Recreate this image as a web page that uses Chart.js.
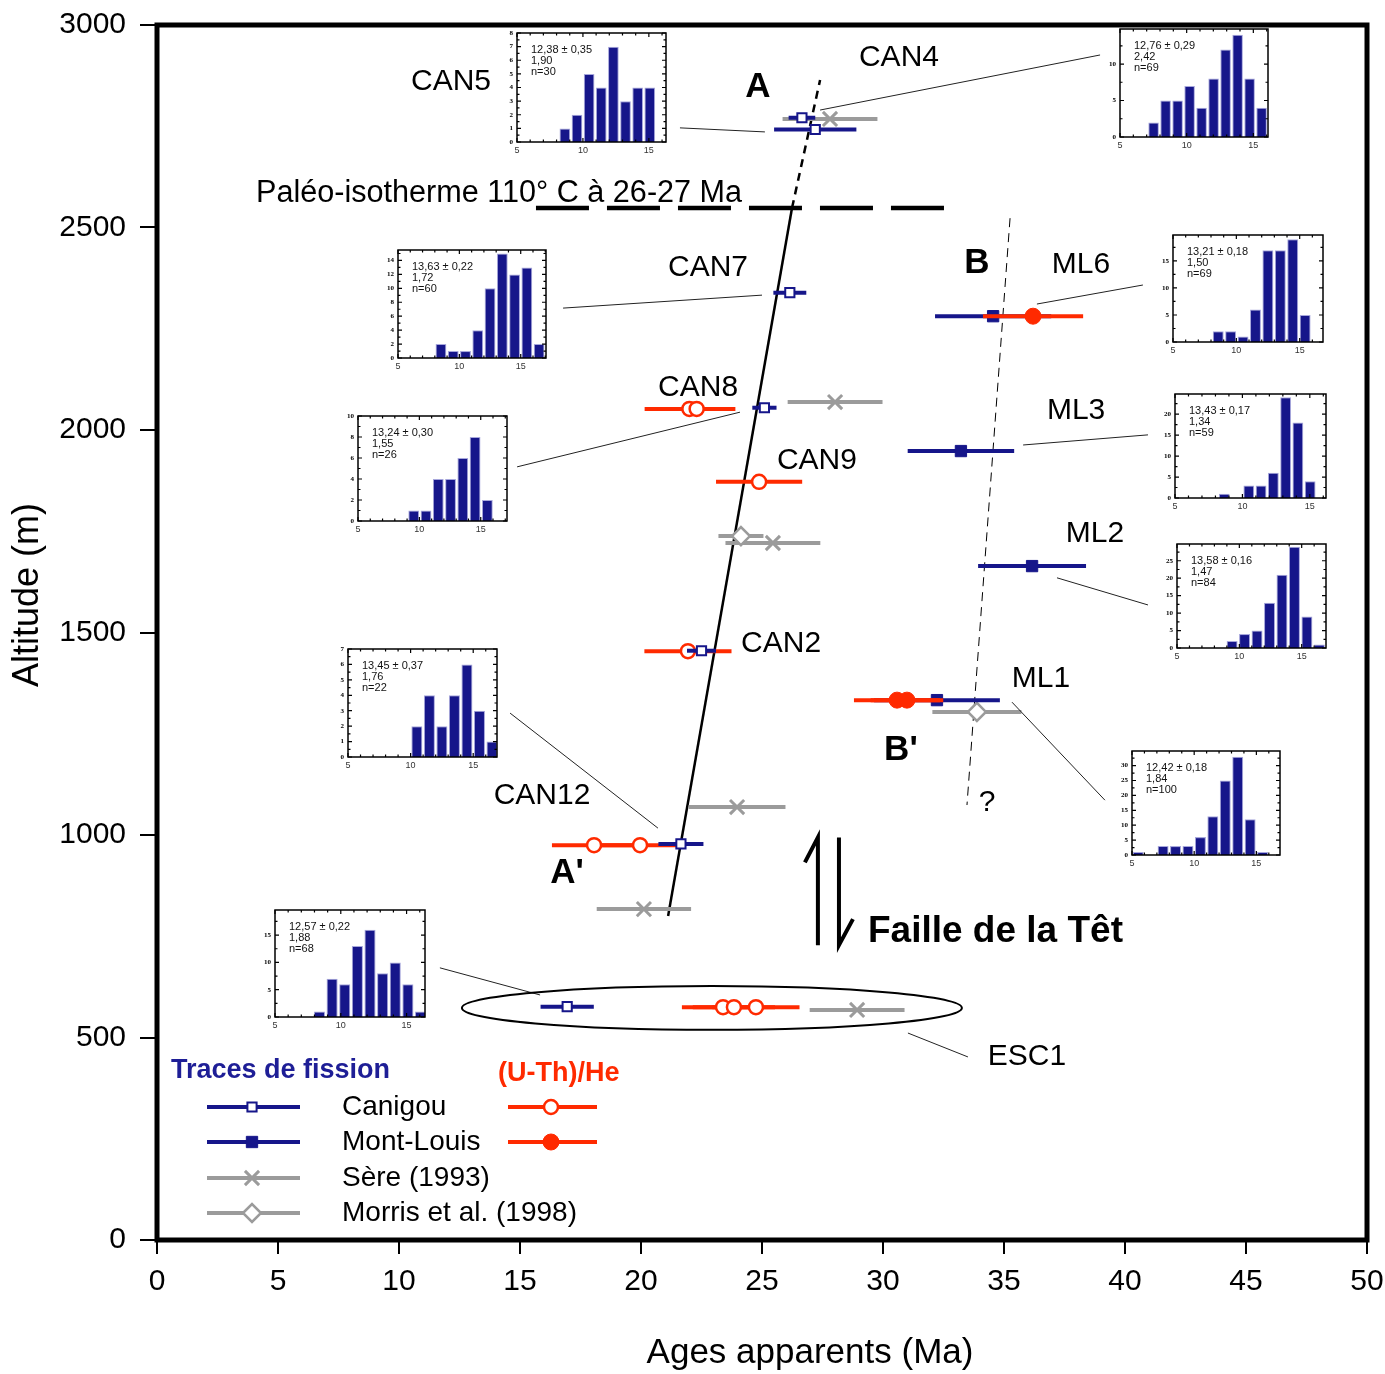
<!DOCTYPE html>
<html>
<head>
<meta charset="utf-8">
<script src="https://cdn.jsdelivr.net/npm/chart.js@4.4.1/dist/chart.umd.min.js"></script>
<style>
  html, body { margin: 0; padding: 0; background: #fff; }
  #wrap { position: relative; width: 1385px; height: 1374px; }
  #wrap canvas { position: absolute; left: 0; top: 0; }
</style>
</head>
<body>
<div id="wrap"><canvas id="main" width="1385" height="1374"></canvas></div>
<script>
// ---------- main plot: ages (Ma), altitudes (m), 1-sigma errors (Ma) ----------
const canigouAge = [26.65, 27.2, 26.15, 25.1, 22.5, 21.65, 16.95];   // CAN4 CAN5 CAN7 CAN8 CAN2 CAN12 ESC1
const canigouAlt = [2771, 2742, 2339, 2055, 1455, 978, 576];
const canigouErr = [0.55, 1.7, 0.68, 0.5, 0.6, 0.93, 1.1];

const mlAge = [34.55, 33.22, 36.16, 32.23];                             // ML6 ML3 ML2 ML1
const mlAlt = [2281, 1948, 1664, 1333];
const mlErr = [2.4, 2.2, 2.23, 2.6];

const sereAge = [27.81, 28.02, 25.45, 23.97, 20.12, 28.93];
const sereAlt = [2768, 2069, 1721, 1069, 817, 568];
const sereErr = [1.96, 1.96, 1.96, 2.0, 1.95, 1.96];

const morrisAge = [24.13, 33.88];
const morrisAlt = [1738, 1304];
const morrisErr = [0.93, 1.84];

const heCanAge = [22.0, 22.3, 24.88, 21.94, 18.06, 19.96, 23.39, 23.84, 24.75];
const heCanAlt = [2052, 2052, 1872, 1454, 975, 975, 575, 575, 575];
const heCanErr = [1.85, 1.6, 1.78, 1.8, 1.74, 1.9, 1.7, 1.7, 1.8];

const heMlAge = [36.2, 30.58, 30.99];
const heMlAlt = [2281, 1333, 1333];
const heMlErr = [2.07, 1.78, 1.5];

// trend lines
const canTrendAge = [21.12, 26.24];
const canTrendAlt = [800, 2548];
const canTrendUpAge = [26.24, 27.4];
const canTrendUpAlt = [2548, 2864];
const mlTrendAge = [35.25, 33.47];
const mlTrendAlt = [2523, 1074];
const isothermAge = [15.66, 32.98];
const isothermAlt = [2548, 2548];

// annotations (data coordinates)
const labelText = ['CAN5', 'CAN4', 'CAN7', 'CAN8', 'CAN9', 'CAN2', 'CAN12', 'ESC1', 'ML6', 'ML3', 'ML2', 'ML1', '?'];
const labelAge = [12.15, 30.66, 22.77, 22.36, 27.27, 25.79, 15.91, 35.95, 38.18, 37.98, 38.76, 36.53, 34.3];
const labelAlt = [2859, 2919, 2400, 2104, 1923, 1472, 1096, 452, 2407, 2047, 1743, 1385, 1079];
const boldText = ['A', 'B', "A'", "B'"];
const boldAge = [24.83, 33.88, 16.94, 30.74];
const boldAlt = [2847, 2412, 906, 1210];

const leaderFromAge = [21.61, 38.97, 16.78, 14.88, 14.59, 11.69, 31.03, 36.36, 35.79, 37.19, 35.33];
const leaderFromAlt = [2746, 2926, 2301, 1909, 1301, 672, 511, 2311, 1963, 1635, 1328];
const leaderToAge = [25.12, 27.40, 25.0, 24.09, 20.70, 15.83, 33.51, 40.74, 40.95, 40.95, 39.17];
const leaderToAlt = [2736, 2790, 2333, 2044, 1017, 605, 452, 2358, 1988, 1568, 1086];

const esc1Ellipse = [22.93, 573, 10.33, 54];   // centre age, centre alt, half-width (Ma), half-height (m)
const faultAge = [27.31, 28.18];
const faultAlt = [728, 994];

// ---------- inset histograms (track-length counts) ----------
const histNames = ['CAN5', 'CAN4', 'CAN7', 'ML6', 'CAN8', 'ML3', 'CAN12', 'ML2', 'ML1', 'ESC1'];
const countsCAN5 = [1, 2, 5, 4, 7, 3, 4, 4];
const countsCAN4 = [2, 5, 5, 7, 4, 8, 12, 14, 8, 4];
const countsCAN7 = [2, 1, 1, 4, 10, 15, 12, 13, 2];
const countsML6 = [2, 2, 1, 6, 17, 17, 19, 5];
const countsCAN8 = [1, 1, 4, 4, 6, 8, 2];
const countsML3 = [1, 0, 3, 3, 6, 24, 18, 4];
const countsCAN12 = [2, 4, 2, 4, 6, 3, 1];
const countsML2 = [2, 4, 5, 13, 21, 29, 9, 1];
const countsML1 = [1, 0, 3, 3, 3, 6, 13, 25, 33, 12, 1];
const countsESC1 = [1, 7, 6, 13, 16, 8, 10, 6, 1];
const histCounts = [countsCAN5, countsCAN4, countsCAN7, countsML6, countsCAN8, countsML3, countsCAN12, countsML2, countsML1, countsESC1];
const histBinStart = [8.17, 7.07, 8, 8.08, 9.04, 8.2, 10, 8.92, 5, 7.9];
const histBinWidth = [0.92, 0.9, 1, 0.98, 1, 0.91, 1, 1, 1, 0.96];
const histXMax = [16.3, 16.1, 17.06, 16.84, 17.14, 16.2, 16.9, 16.95, 16.9, 16.4];
const histYMax = [8, 14.8, 15.5, 19.8, 10, 24.8, 7, 29.8, 34.9, 19.6];
const histYStep = [1, 5, 2, 5, 2, 5, 1, 5, 5, 5];
const histStats = [
  ['12,38 ± 0,35', '1,90', 'n=30'],
  ['12,76 ± 0,29', '2,42', 'n=69'],
  ['13,63 ± 0,22', '1,72', 'n=60'],
  ['13,21 ± 0,18', '1,50', 'n=69'],
  ['13,24 ± 0,30', '1,55', 'n=26'],
  ['13,43 ± 0,17', '1,34', 'n=59'],
  ['13,45 ± 0,37', '1,76', 'n=22'],
  ['13,58 ± 0,16', '1,47', 'n=84'],
  ['12,42 ± 0,18', '1,84', 'n=100'],
  ['12,57 ± 0,22', '1,88', 'n=68']
];
// inset plot boxes on the page: left, top, width, height
const insetBoxes = [
  [517, 33, 149, 109], [1120, 29, 148, 108], [398, 250, 148, 108], [1173, 235, 150, 107],
  [358, 416, 149, 105], [1175, 394, 151, 104], [348, 649, 149, 108], [1177, 544, 149, 104],
  [1132, 751, 148, 104], [275, 910, 150, 107]
];

const NAVY = '#16168a';
const RED = '#ff2a00';
const GRAY = '#9b9b9b';
const FONT = '"Liberation Sans", Arial, Helvetica, sans-serif';

function pts(xs, ys) { return xs.map((v, i) => ({ x: v, y: ys[i] })); }

const styleCanigou = { pointStyle: 'rect', pointRadius: 6.5, pointBorderWidth: 2, pointBackgroundColor: '#fff', pointBorderColor: NAVY };
const styleML = { pointStyle: 'rect', pointRadius: 8, pointBorderWidth: 1, pointBackgroundColor: NAVY, pointBorderColor: NAVY };
const styleSere = { pointStyle: 'crossRot', pointRadius: 10, pointBorderWidth: 3, pointBackgroundColor: GRAY, pointBorderColor: GRAY };
const styleMorris = { pointStyle: 'rectRot', pointRadius: 9, pointBorderWidth: 2.5, pointBackgroundColor: '#fff', pointBorderColor: GRAY };
const styleHeCan = { pointStyle: 'circle', pointRadius: 7, pointBorderWidth: 2.5, pointBackgroundColor: '#fff', pointBorderColor: RED };
const styleHeMl = { pointStyle: 'circle', pointRadius: 8, pointBorderWidth: 1, pointBackgroundColor: RED, pointBorderColor: RED };

function seriesDs(label, ages, alts, errs, style, color, order) {
  return Object.assign({ label, type: 'scatter', data: pts(ages, alts), xErr: errs, errColor: color, errWidth: 4, order, showLine: false }, style);
}
function lineDs(ages, alts, extra) {
  return Object.assign({ type: 'line', data: pts(ages, alts), pointRadius: 0, borderColor: '#000', fill: false, order: 20 }, extra);
}
function noPad(s) { s.paddingLeft = 0; s.paddingRight = 0; s.paddingTop = 0; s.paddingBottom = 0; }

const errorBars = {
  id: 'errorBars',
  beforeDatasetDraw(chart, args) {
    const ds = chart.data.datasets[args.index];
    if (!ds.xErr) return;
    const { ctx, scales: { x, y } } = chart;
    ctx.save();
    ctx.strokeStyle = ds.errColor;
    ctx.lineWidth = ds.errWidth;
    ds.data.forEach((p, k) => {
      const py = y.getPixelForValue(p.y);
      ctx.beginPath();
      ctx.moveTo(x.getPixelForValue(p.x - ds.xErr[k]), py);
      ctx.lineTo(x.getPixelForValue(p.x + ds.xErr[k]), py);
      ctx.stroke();
    });
    ctx.restore();
  }
};

function drawMarker(ctx, st, x, y) {
  const r = st.pointRadius;
  ctx.save();
  ctx.lineWidth = st.pointBorderWidth;
  ctx.strokeStyle = st.pointBorderColor;
  ctx.fillStyle = st.pointBackgroundColor;
  ctx.beginPath();
  if (st.pointStyle === 'rect') {
    const s = r * Math.SQRT1_2;
    ctx.rect(x - s, y - s, 2 * s, 2 * s); ctx.fill(); ctx.stroke();
  } else if (st.pointStyle === 'circle') {
    ctx.arc(x, y, r, 0, 2 * Math.PI); ctx.fill(); ctx.stroke();
  } else if (st.pointStyle === 'rectRot') {
    ctx.moveTo(x - r, y); ctx.lineTo(x, y - r); ctx.lineTo(x + r, y); ctx.lineTo(x, y + r); ctx.closePath();
    ctx.fill(); ctx.stroke();
  } else {
    const o = r * Math.SQRT1_2;
    ctx.moveTo(x - o, y - o); ctx.lineTo(x + o, y + o); ctx.moveTo(x + o, y - o); ctx.lineTo(x - o, y + o); ctx.stroke();
  }
  ctx.restore();
}

const annotations = {
  id: 'annotations',
  afterDatasetsDraw(chart) {
    const { ctx, scales: { x, y } } = chart;
    const px = v => x.getPixelForValue(v), py = v => y.getPixelForValue(v);
    ctx.save();
    // leader lines
    ctx.strokeStyle = '#222';
    ctx.lineWidth = 1;
    leaderFromAge.forEach((a, i) => {
      ctx.beginPath();
      ctx.moveTo(px(a), py(leaderFromAlt[i]));
      ctx.lineTo(px(leaderToAge[i]), py(leaderToAlt[i]));
      ctx.stroke();
    });
    // ESC1 ellipse
    const [ea, eh, ew, ev] = esc1Ellipse;
    const cx = px(ea), cy = py(eh);
    ctx.lineWidth = 2;
    ctx.strokeStyle = '#000';
    ctx.beginPath();
    ctx.ellipse(cx, cy, px(ea + ew) - cx, cy - py(eh + ev), 0, 0, 2 * Math.PI);
    ctx.stroke();
    // fault half-arrows
    ctx.lineWidth = 4;
    ctx.lineJoin = 'miter';
    const lx = px(faultAge[0]), rx = px(faultAge[1]);
    const top = py(faultAlt[1]), bot = py(faultAlt[0]);
    ctx.beginPath();
    ctx.moveTo(lx, bot); ctx.lineTo(lx, top); ctx.lineTo(lx - 13, top + 25);
    ctx.moveTo(rx, top); ctx.lineTo(rx, bot); ctx.lineTo(rx + 14, bot - 26);
    ctx.stroke();
    // labels
    ctx.fillStyle = '#000';
    ctx.textAlign = 'center';
    ctx.textBaseline = 'middle';
    ctx.font = '30px ' + FONT;
    labelText.forEach((t, i) => ctx.fillText(t, px(labelAge[i]), py(labelAlt[i])));
    ctx.font = 'bold 35px ' + FONT;
    boldText.forEach((t, i) => ctx.fillText(t, px(boldAge[i]), py(boldAlt[i])));
    ctx.textAlign = 'left';
    ctx.font = 'bold 37px ' + FONT;
    ctx.fillText('Faille de la Têt', px(29.38), py(760));
    ctx.font = '30.6px ' + FONT;
    ctx.fillText('Paléo-isotherme 110° C à 26-27 Ma', px(4.09), py(2585));
    ctx.restore();
  },
  afterDraw(chart) {
    const { ctx, chartArea: a } = chart;
    ctx.save();
    // frame
    ctx.strokeStyle = '#000';
    ctx.lineWidth = 5;
    ctx.strokeRect(a.left, a.top, a.right - a.left, a.bottom - a.top);
    // axis titles
    ctx.fillStyle = '#000';
    ctx.textAlign = 'center';
    ctx.textBaseline = 'middle';
    ctx.font = '35px ' + FONT;
    ctx.fillText('Ages apparents (Ma)', 810, 1353);
    ctx.save();
    ctx.translate(28, 595);
    ctx.rotate(-Math.PI / 2);
    ctx.font = '36px ' + FONT;
    ctx.fillText('Altitude (m)', 0, 0);
    ctx.restore();
    // legend
    ctx.textAlign = 'left';
    ctx.font = 'bold 27px ' + FONT;
    ctx.fillStyle = '#1e1e96';
    ctx.fillText('Traces de fission', 171, 1071);
    ctx.fillStyle = RED;
    ctx.fillText('(U-Th)/He', 498, 1074);
    const rows = [
      [styleCanigou, NAVY, 'Canigou', styleHeCan],
      [styleML, NAVY, 'Mont-Louis', styleHeMl],
      [styleSere, GRAY, 'Sère (1993)', null],
      [styleMorris, GRAY, 'Morris et al. (1998)', null]
    ];
    const rowY = [1107, 1142, 1178, 1213];
    rows.forEach((r, i) => {
      const yy = rowY[i];
      ctx.lineWidth = 4;
      ctx.strokeStyle = r[1];
      ctx.beginPath(); ctx.moveTo(207, yy); ctx.lineTo(300, yy); ctx.stroke();
      drawMarker(ctx, r[0], 252, yy);
      ctx.fillStyle = '#000';
      ctx.font = '28px ' + FONT;
      ctx.fillText(r[2], 342, yy);
      if (r[3]) {
        ctx.strokeStyle = RED;
        ctx.lineWidth = 4;
        ctx.beginPath(); ctx.moveTo(508, yy); ctx.lineTo(597, yy); ctx.stroke();
        drawMarker(ctx, r[3], 551, yy);
      }
    });
    ctx.restore();
  }
};

new Chart(document.getElementById('main'), {
  type: 'scatter',
  data: {
    datasets: [
      seriesDs('Canigou AFT', canigouAge, canigouAlt, canigouErr, styleCanigou, NAVY, 1),
      seriesDs('Canigou He', heCanAge, heCanAlt, heCanErr, styleHeCan, RED, 2),
      seriesDs('Mont-Louis He', heMlAge, heMlAlt, heMlErr, styleHeMl, RED, 3),
      seriesDs('Mont-Louis AFT', mlAge, mlAlt, mlErr, styleML, NAVY, 4),
      seriesDs('Morris', morrisAge, morrisAlt, morrisErr, styleMorris, GRAY, 5),
      seriesDs('Sère', sereAge, sereAlt, sereErr, styleSere, GRAY, 6),
      lineDs(canTrendAge, canTrendAlt, { borderWidth: 2.5 }),
      lineDs(canTrendUpAge, canTrendUpAlt, { borderWidth: 2.5, borderDash: [8, 6] }),
      lineDs(mlTrendAge, mlTrendAlt, { borderWidth: 1, borderDash: [9, 6] }),
      lineDs(isothermAge, isothermAlt, { borderWidth: 4.5, borderDash: [53, 18] })
    ]
  },
  options: {
    responsive: false,
    animation: false,
    devicePixelRatio: 1,
    events: [],
    layout: { padding: { top: 25, right: 18, left: 0, bottom: 0 } },
    plugins: { legend: { display: false }, tooltip: { enabled: false } },
    scales: {
      x: {
        type: 'linear', min: 0, max: 50,
        afterFit: s => { s.height = 134; noPad(s); },
        border: { display: false },
        grid: { drawOnChartArea: false, drawTicks: true, tickLength: 14, color: '#000', lineWidth: 2 },
        ticks: { stepSize: 5, color: '#000', font: { size: 30, family: FONT }, padding: 10, maxRotation: 0, autoSkip: false, callback: v => String(v) }
      },
      y: {
        type: 'linear', min: 0, max: 3000,
        afterFit: s => { s.width = 157; noPad(s); },
        border: { display: false },
        grid: { drawOnChartArea: false, drawTicks: true, tickLength: 17, color: '#000', lineWidth: 2 },
        ticks: { stepSize: 500, color: '#000', font: { size: 30, family: FONT }, padding: 14, callback: v => String(v) }
      }
    }
  },
  plugins: [errorBars, annotations]
});

// ---------- insets ----------
const insetFrame = {
  id: 'insetFrame',
  beforeDraw(chart) {
    const { ctx, chartArea: a } = chart;
    ctx.save();
    ctx.fillStyle = '#fff';
    ctx.fillRect(a.left, a.top, a.right - a.left, a.bottom - a.top);
    ctx.restore();
  },
  afterDraw(chart) {
    const { ctx, chartArea: a, scales: { x, y } } = chart;
    ctx.save();
    ctx.strokeStyle = '#000';
    ctx.lineWidth = 1.2;
    ctx.beginPath();
    for (let v = Math.ceil(x.min); v <= x.max; v++) {
      const p = x.getPixelForValue(v), len = v % 5 === 0 ? 4 : 2.5;
      ctx.moveTo(p, a.bottom); ctx.lineTo(p, a.bottom - len);
      ctx.moveTo(p, a.top); ctx.lineTo(p, a.top + len);
    }
    const step = chart.options.scales.y.ticks.stepSize;
    for (let v = 0; v <= y.max; v += step / 2) {
      const p = y.getPixelForValue(v), len = (v / step) % 1 === 0 ? 4 : 2.5;
      ctx.moveTo(a.left, p); ctx.lineTo(a.left + len, p);
      ctx.moveTo(a.right, p); ctx.lineTo(a.right - len, p);
    }
    ctx.stroke();
    ctx.lineWidth = 1.5;
    ctx.strokeRect(a.left, a.top, a.right - a.left, a.bottom - a.top);
    const lines = chart.options.plugins.insetFrame.stats;
    ctx.fillStyle = '#111';
    ctx.font = '11px ' + FONT;
    ctx.textBaseline = 'middle';
    lines.forEach((t, i) => ctx.fillText(t, a.left + 14, a.top + 17 + i * 11));
    ctx.restore();
  }
};

const wrap = document.getElementById('wrap');
histNames.forEach((name, i) => {
  const [bl, bt, bw, bh] = insetBoxes[i];
  const padL = 16, padT = 3, padR = 3, padB = 15;
  const cv = document.createElement('canvas');
  cv.width = bw + padL + padR;
  cv.height = bh + padT + padB;
  cv.style.left = (bl - padL) + 'px';
  cv.style.top = (bt - padT) + 'px';
  wrap.appendChild(cv);
  const data = histCounts[i].map((c, k) => ({ x: histBinStart[i] + histBinWidth[i] * (k + 0.5), y: c }));
  const ymax = histYMax[i], ystep = histYStep[i];
  new Chart(cv, {
    type: 'bar',
    data: { datasets: [{ label: name, data, backgroundColor: NAVY, borderColor: '#a7a7dc', borderWidth: 1, borderSkipped: 'bottom', barPercentage: 0.88, categoryPercentage: 1 }] },
    options: {
      responsive: false,
      animation: false,
      devicePixelRatio: 1,
      events: [],
      layout: { padding: { top: padT, right: padR, left: 0, bottom: 0 } },
      plugins: { legend: { display: false }, tooltip: { enabled: false }, insetFrame: { stats: histStats[i] } },
      scales: {
        x: {
          type: 'linear', min: 5, max: histXMax[i], offset: false,
          afterBuildTicks: s => { s.ticks = [5, 10, 15].map(v => ({ value: v })); },
          afterFit: s => { s.height = padB; noPad(s); },
          border: { display: false },
          grid: { display: false, drawTicks: false },
          ticks: { color: '#333', font: { size: 9, family: FONT }, padding: 3, maxRotation: 0, autoSkip: false }
        },
        y: {
          min: 0, max: ymax,
          afterBuildTicks: s => {
            const t = [];
            for (let v = 0; v <= ymax + 1e-9; v += ystep) t.push({ value: v });
            s.ticks = t;
          },
          afterFit: s => { s.width = padL; noPad(s); },
          border: { display: false },
          grid: { display: false, drawTicks: false },
          ticks: { stepSize: ystep, color: '#000', font: { size: 7, weight: 'bold', family: '"Liberation Serif", serif' }, padding: 4 }
        }
      }
    },
    plugins: [insetFrame]
  });
});
</script>
</body>
</html>
